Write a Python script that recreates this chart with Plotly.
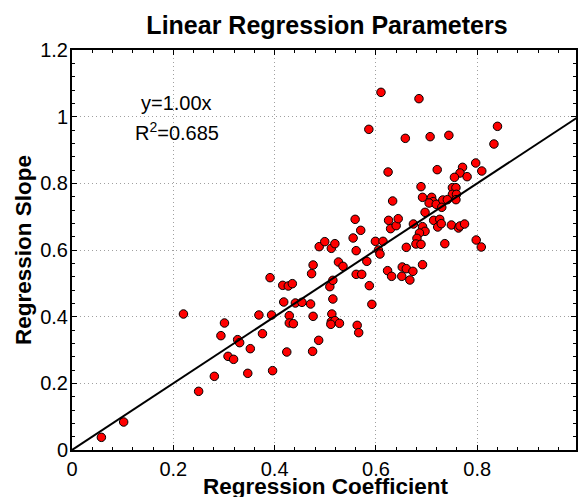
import plotly.graph_objects as go

# Per-sample regression coefficient (x) and regression slope (y)
coefficient = [
    0.058, 0.102, 0.220, 0.250, 0.281, 0.294, 0.301, 0.308, 0.319, 0.327,
    0.331, 0.347, 0.352, 0.369, 0.376, 0.394, 0.396, 0.391, 0.416, 0.427,
    0.435, 0.418, 0.441, 0.454, 0.471, 0.429, 0.429, 0.437, 0.424, 0.475,
    0.487, 0.476, 0.473, 0.476, 0.488, 0.499, 0.512, 0.519, 0.509, 0.515,
    0.515, 0.513, 0.512, 0.519, 0.511, 0.528, 0.526, 0.535, 0.555, 0.570,
    0.559, 0.561, 0.561, 0.572, 0.563, 0.566, 0.582, 0.587, 0.592, 0.586,
    0.599, 0.614, 0.605, 0.608, 0.610, 0.624, 0.633, 0.625, 0.629, 0.640,
    0.644, 0.623, 0.631, 0.651, 0.652, 0.660, 0.673, 0.667, 0.660, 0.658,
    0.685, 0.707, 0.744, 0.840, 0.833, 0.797, 0.809, 0.771, 0.766, 0.780,
    0.755, 0.721, 0.689, 0.751, 0.758, 0.751, 0.759, 0.758, 0.692, 0.710,
    0.713, 0.705, 0.719, 0.732, 0.741, 0.730, 0.697, 0.674, 0.692, 0.697,
    0.686, 0.681, 0.679, 0.689, 0.714, 0.726, 0.722, 0.729, 0.749, 0.763,
    0.766, 0.775, 0.736, 0.798, 0.808, 0.692,
]
slope = [
    0.038, 0.084, 0.408, 0.176, 0.221, 0.343, 0.381, 0.281, 0.272, 0.331,
    0.322, 0.230, 0.304, 0.405, 0.349, 0.405, 0.238, 0.517, 0.494, 0.492,
    0.499, 0.444, 0.441, 0.443, 0.438, 0.403, 0.381, 0.379, 0.294, 0.296,
    0.329, 0.401, 0.529, 0.555, 0.610, 0.625, 0.605, 0.619, 0.490, 0.509,
    0.453, 0.408, 0.385, 0.388, 0.377, 0.380, 0.564, 0.551, 0.636, 0.659,
    0.692, 0.598, 0.527, 0.527, 0.374, 0.352, 0.566, 0.493, 0.437, 0.962,
    0.626, 0.626, 0.600, 0.588, 1.073, 0.834, 0.747, 0.689, 0.664, 0.673,
    0.694, 0.538, 0.521, 0.521, 0.549, 0.544, 0.536, 0.510, 0.608, 0.935,
    1.054, 0.940, 0.944, 0.971, 0.918, 0.861, 0.837, 0.848, 0.831, 0.820,
    0.818, 0.841, 0.790, 0.787, 0.787, 0.767, 0.767, 0.751, 0.758, 0.758,
    0.745, 0.741, 0.737, 0.750, 0.751, 0.728, 0.713, 0.678, 0.670, 0.656,
    0.651, 0.635, 0.618, 0.617, 0.689, 0.692, 0.669, 0.679, 0.675, 0.666,
    0.672, 0.678, 0.619, 0.630, 0.609, 0.556,
]

# Fitted line through the origin and its goodness of fit
fit_slope = 1.00
r_squared = 0.685
fit_x = [0.0, 1.0]

font_family = "Liberation Sans, Arial, Helvetica, sans-serif"

fig = go.Figure()

fig.add_trace(go.Scatter(
    x=coefficient, y=slope, mode="markers",
    marker=dict(size=8.5, color="#ff0000", line=dict(color="black", width=1)),
    showlegend=False,
))

fig.add_trace(go.Scatter(
    x=fit_x, y=[fit_slope * v for v in fit_x], mode="lines",
    line=dict(color="black", width=2),
    showlegend=False,
))

axis_common = dict(
    showline=True, linecolor="black", linewidth=2, mirror="allticks",
    ticks="inside", ticklen=5, tickwidth=1, tickcolor="black",
    showgrid=True, gridcolor="#a0a0a0", gridwidth=1, griddash="1px,3px",
    zeroline=False,
    tickfont=dict(family=font_family, size=20, color="black"),
    minor=dict(ticks="inside", ticklen=3, tickwidth=1, tickcolor="black",
               tick0=0, dtick=0.04, showgrid=False),
)

fig.update_layout(
    width=579, height=497,
    margin=dict(l=72, r=1, t=50, b=47),
    paper_bgcolor="white", plot_bgcolor="white",
    font=dict(family=font_family, color="black"),
    title=dict(
        text="<b>Linear Regression Parameters</b>",
        font=dict(family=font_family, size=25, color="black"),
        x=327 / 579, xanchor="center", xref="container",
        y=1 - 25 / 497, yanchor="middle", yref="container",
    ),
    xaxis=dict(range=[0, 0.995], tick0=0, dtick=0.2, **axis_common),
    yaxis=dict(range=[0, 1.2], tick0=0, dtick=0.2, ticklabelstandoff=-2,
               **axis_common),
    annotations=[
        dict(text="<b>Regression Coefficient</b>", xref="paper", yref="paper",
             x=0.504, y=-0.09, xanchor="center", yanchor="middle",
             showarrow=False, font=dict(family=font_family, size=22.5)),
        dict(text="<b>Regression Slope</b>", xref="paper", yref="paper",
             x=-0.097, y=0.5, xanchor="center", yanchor="middle", textangle=-90,
             showarrow=False, font=dict(family=font_family, size=22.5)),
        dict(text=f"y={fit_slope:.2f}x", xref="x", yref="y",
             x=0.207, y=1.042, xanchor="center", yanchor="middle",
             showarrow=False, font=dict(family=font_family, size=20)),
        dict(text=f"R<sup>2</sup>={r_squared:.3f}", xref="x", yref="y",
             x=0.207, y=0.956, xanchor="center", yanchor="middle",
             showarrow=False, font=dict(family=font_family, size=20)),
    ],
)

fig.write_html("out.html")
